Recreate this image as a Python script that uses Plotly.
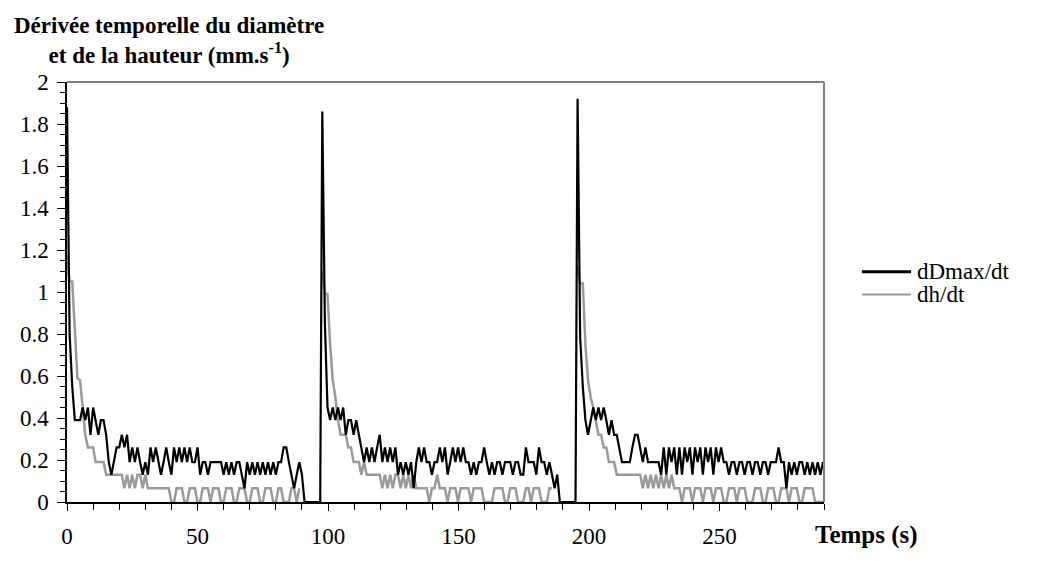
import plotly.graph_objects as go

FONT = "'Liberation Serif', 'Times New Roman', 'DejaVu Serif', serif"

# start time (s) of each of the three cycles
cycle_start = [0.0, 97.8, 195.6]

# dDmax/dt (mm/s), one value per second from each cycle start
dDmax_c1 = [1.88, 0.80, 0.55, 0.39, 0.39, 0.39, 0.45, 0.39, 0.45, 0.32,
            0.45, 0.39, 0.32, 0.39, 0.39, 0.32, 0.19, 0.13, 0.19, 0.26,
            0.26, 0.32, 0.26, 0.32, 0.19, 0.26, 0.19, 0.26, 0.19, 0.13,
            0.19, 0.13, 0.26, 0.19, 0.26, 0.19, 0.13, 0.19, 0.26, 0.19,
            0.13, 0.26, 0.19, 0.26, 0.19, 0.26, 0.19, 0.26, 0.19, 0.19,
            0.26, 0.13, 0.19, 0.19, 0.13, 0.19, 0.19, 0.19, 0.19, 0.19,
            0.13, 0.19, 0.13, 0.19, 0.13, 0.19, 0.19, 0.13, 0.065, 0.19,
            0.13, 0.19, 0.13, 0.19, 0.13, 0.19, 0.13, 0.19, 0.13, 0.19,
            0.13, 0.19, 0.19, 0.26, 0.26, 0.19, 0.13, 0.065, 0.13, 0.19,
            0.13, 0, 0, 0, 0, 0, 0, 0]
dDmax_c2 = [1.86, 0.85, 0.45, 0.39, 0.45, 0.39, 0.45, 0.39, 0.45, 0.32,
            0.39, 0.39, 0.32, 0.39, 0.32, 0.26, 0.19, 0.26, 0.19, 0.26,
            0.19, 0.26, 0.32, 0.19, 0.26, 0.19, 0.26, 0.19, 0.26, 0.13,
            0.19, 0.13, 0.19, 0.13, 0.19, 0.065, 0.19, 0.26, 0.19, 0.26,
            0.19, 0.19, 0.13, 0.19, 0.19, 0.26, 0.19, 0.26, 0.13, 0.19,
            0.26, 0.19, 0.26, 0.19, 0.26, 0.19, 0.19, 0.13, 0.19, 0.13,
            0.19, 0.19, 0.26, 0.19, 0.13, 0.19, 0.13, 0.19, 0.19, 0.13,
            0.19, 0.19, 0.19, 0.13, 0.19, 0.19, 0.13, 0.13, 0.26, 0.19,
            0.19, 0.19, 0.13, 0.26, 0.19, 0.19, 0.13, 0.19, 0.13, 0.065,
            0.13, 0, 0, 0, 0, 0, 0, 0]
dDmax_c3 = [1.92, 0.78, 0.55, 0.39, 0.32, 0.39, 0.45, 0.39, 0.45, 0.39,
            0.45, 0.39, 0.32, 0.39, 0.32, 0.32, 0.26, 0.19, 0.19, 0.19,
            0.19, 0.26, 0.32, 0.32, 0.26, 0.19, 0.26, 0.19, 0.19, 0.19,
            0.19, 0.19, 0.13, 0.26, 0.13, 0.26, 0.19, 0.26, 0.13, 0.26,
            0.13, 0.26, 0.19, 0.26, 0.13, 0.26, 0.19, 0.26, 0.13, 0.26,
            0.19, 0.26, 0.13, 0.26, 0.19, 0.26, 0.19, 0.19, 0.13, 0.19,
            0.19, 0.13, 0.19, 0.19, 0.13, 0.19, 0.19, 0.13, 0.19, 0.19,
            0.13, 0.19, 0.19, 0.13, 0.19, 0.19, 0.19, 0.26, 0.19, 0.19,
            0.065, 0.19, 0.13, 0.19, 0.13, 0.19, 0.19, 0.13, 0.19, 0.13,
            0.19, 0.13, 0.19, 0.13, 0.19]

# dh/dt (mm/s)
dh_c1 = [1.18, 1.05, 1.05, 0.80, 0.59, 0.58, 0.45, 0.32, 0.26, 0.26,
         0.26, 0.19, 0.19, 0.19, 0.19, 0.13, 0.13, 0.13, 0.13, 0.13,
         0.13, 0.13, 0.065, 0.13, 0.065, 0.13, 0.065, 0.13, 0.13, 0.065,
         0.13, 0.065, 0.065, 0.065, 0.065, 0.065, 0.065, 0.065, 0.065, 0.065,
         0, 0, 0.065, 0.065, 0.065, 0, 0, 0.065, 0.065, 0.065,
         0, 0, 0.065, 0.065, 0.065, 0, 0.065, 0.065, 0.065, 0,
         0, 0.065, 0.065, 0.065, 0, 0, 0.065, 0.065, 0.065, 0,
         0, 0.065, 0.065, 0.065, 0, 0, 0.065, 0.065, 0.065, 0,
         0, 0.065, 0.065, 0, 0, 0, 0.065, 0.065, 0, 0.065]
dh_c2 = [1.10, 0.99, 0.99, 0.75, 0.58, 0.50, 0.39, 0.32, 0.32, 0.32,
         0.26, 0.26, 0.19, 0.19, 0.19, 0.13, 0.19, 0.13, 0.13, 0.13,
         0.13, 0.13, 0.13, 0.065, 0.13, 0.065, 0.13, 0.065, 0.13, 0.13,
         0.065, 0.13, 0.065, 0.13, 0.065, 0.13, 0.065, 0.065, 0.065, 0.065,
         0.065, 0, 0.065, 0.065, 0.13, 0.065, 0.065, 0.065, 0, 0.065,
         0.065, 0.065, 0, 0.065, 0.065, 0.065, 0.065, 0, 0.065, 0.065,
         0.065, 0.065, 0, 0, 0, 0, 0.065, 0.065, 0.065, 0.065,
         0, 0, 0.065, 0.065, 0.065, 0, 0, 0, 0.065, 0.065,
         0, 0.065, 0.065, 0.065, 0, 0, 0, 0.065, 0.065]
dh_c3 = [1.12, 1.04, 1.04, 0.75, 0.58, 0.50, 0.45, 0.39, 0.32, 0.32,
         0.26, 0.26, 0.19, 0.19, 0.19, 0.13, 0.13, 0.13, 0.13, 0.13,
         0.13, 0.13, 0.13, 0.13, 0.13, 0.065, 0.13, 0.065, 0.13, 0.065,
         0.13, 0.065, 0.13, 0.065, 0.13, 0.065, 0.13, 0.065, 0.065, 0.065,
         0, 0.065, 0.065, 0.065, 0, 0.065, 0.065, 0.065, 0, 0.065,
         0.065, 0.065, 0, 0.065, 0.065, 0.065, 0, 0, 0.065, 0.065,
         0.065, 0, 0.065, 0.065, 0.065, 0, 0, 0, 0.065, 0.065,
         0.065, 0, 0, 0.065, 0.065, 0.065, 0, 0, 0.065, 0.065,
         0.065, 0, 0.065, 0.065, 0.065, 0, 0, 0.065, 0.065, 0.065,
         0.065, 0, 0, 0, 0]


def cycle_times(start, values):
    return [start + i for i in range(len(values))]


x_dD, y_dD = [], []
for start, vals in zip(cycle_start, [dDmax_c1, dDmax_c2, dDmax_c3]):
    x_dD += cycle_times(start, vals)
    y_dD += vals

x_dh, y_dh = [], []
for start, vals in zip(cycle_start, [dh_c1, dh_c2, dh_c3]):
    if x_dh:
        x_dh.append(None)  # no height data between cycles
        y_dh.append(None)
    x_dh += cycle_times(start, vals)
    y_dh += vals

GRAY = "#9a9a9a"

fig = go.Figure()
fig.add_trace(go.Scatter(x=x_dh, y=y_dh, mode="lines", name="dh/dt",
                         line=dict(color=GRAY, width=2.5), showlegend=False))
fig.add_trace(go.Scatter(x=x_dD, y=y_dD, mode="lines", name="dDmax/dt",
                         line=dict(color="black", width=2.2), showlegend=False))

axis_font = dict(family=FONT, size=23, color="black")

fig.update_xaxes(range=[0, 290], tick0=0, dtick=50, ticks="outside", ticklen=7,
                 tickcolor="black", tickwidth=1, showline=True, linecolor="black",
                 linewidth=1.5, showgrid=False, zeroline=False, tickfont=axis_font,
                 ticklabelstandoff=6,
                 minor=dict(dtick=10, ticks="outside", ticklen=6, tickcolor="black",
                            showgrid=False))
fig.update_yaxes(range=[0, 2], tick0=0, dtick=0.2, ticks="outside", ticklen=8,
                 tickcolor="black", tickwidth=1, showline=True, linecolor="black",
                 linewidth=1.5, showgrid=False, zeroline=False, tickfont=axis_font,
                 ticklabelstandoff=4,
                 minor=dict(dtick=0.05, ticks="outside", ticklen=5, tickcolor="black",
                            showgrid=False))

# grey frame on top and right of the plot area
fig.add_shape(type="line", xref="paper", yref="paper", x0=0, x1=1, y0=1, y1=1,
              line=dict(color="#808080", width=2))
fig.add_shape(type="line", xref="paper", yref="paper", x0=1, x1=1, y0=0, y1=1,
              line=dict(color="#808080", width=2))

# legend
legend_font = dict(family=FONT, size=23, color="black")
fig.add_shape(type="line", xref="paper", yref="paper", x0=1.050, x1=1.115,
              y0=0.548, y1=0.548, line=dict(color="black", width=3))
fig.add_shape(type="line", xref="paper", yref="paper", x0=1.050, x1=1.115,
              y0=0.494, y1=0.494, line=dict(color=GRAY, width=2))
fig.add_annotation(text="dDmax/dt", xref="paper", yref="paper", x=1.120, y=0.548,
                   xanchor="left", yanchor="middle", showarrow=False, font=legend_font)
fig.add_annotation(text="dh/dt", xref="paper", yref="paper", x=1.120, y=0.494,
                   xanchor="left", yanchor="middle", showarrow=False, font=legend_font)

# axis titles
fig.add_annotation(text="<b>Dérivée temporelle du diamètre<br>et de la hauteur (mm.s<sup>-1</sup>)</b>",
                   xref="paper", yref="paper", x=0.135, y=1.098, xanchor="center",
                   yanchor="middle", align="center", showarrow=False,
                   font=dict(family=FONT, size=23, color="black"))
fig.add_annotation(text="<b>Temps (s)</b>", xref="paper", yref="paper", x=0.985, y=-0.0775,
                   xanchor="left", yanchor="middle", showarrow=False,
                   font=dict(family=FONT, size=25, color="black"))

# the page body adds an 8 px offset, so the figure is 8 px smaller and shifted
fig.update_layout(width=1029, height=553, margin=dict(l=57, r=213, t=74, b=40),
                  paper_bgcolor="white", plot_bgcolor="white",
                  font=dict(family=FONT, color="black"))

fig.write_html("out.html")
